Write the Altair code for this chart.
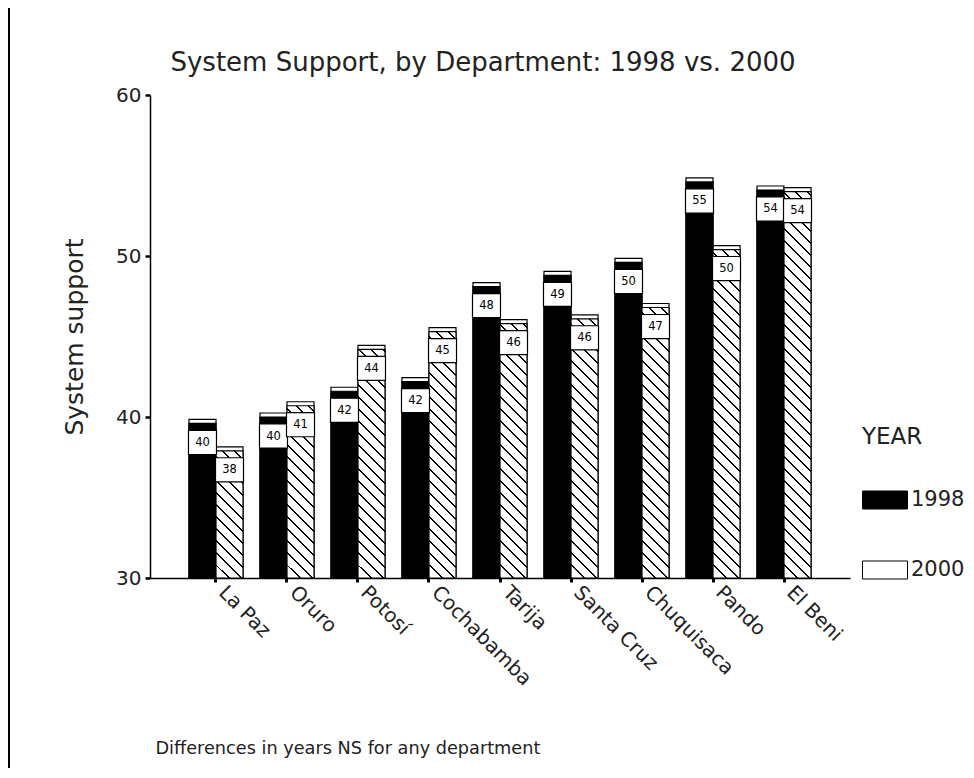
import math
import altair as alt
import pandas as pd

departments = ["La Paz", "Oruro", "Potosí", "Cochabamba", "Tarija",
               "Santa Cruz", "Chuquisaca", "Pando", "El Beni"]
values_1998 = [39.6, 40.0, 41.6, 42.2, 48.1, 48.8, 49.6, 54.6, 54.1]
values_2000 = [37.9, 40.7, 44.2, 45.3, 45.8, 46.1, 46.8, 50.4, 54.0]
labels_1998 = ["40", "40", "42", "42", "48", "49", "50", "55", "54"]
labels_2000 = ["38", "41", "44", "45", "46", "46", "47", "50", "54"]
years = ["1998", "2000"]

rows = []
for d, v, l in zip(departments, values_1998, labels_1998):
    rows.append({"department": d, "year": "1998", "value": v, "label": l})
for d, v, l in zip(departments, values_2000, labels_2000):
    rows.append({"department": d, "year": "2000", "value": v, "label": l})
df = pd.DataFrame(rows)

PLOT_W, PLOT_H = 700, 483
Y_MIN, Y_MAX = 30, 60
PX_PER_UNIT = PLOT_H / (Y_MAX - Y_MIN)
BAR_W = 27
FONT = "DejaVu Sans"
TXT = "#222"


def hatch_gradient(value):
    """Diagonal hatch fill built as a striped linear gradient (bbox units)."""
    W = BAR_W
    H = max((value - Y_MIN) * PX_PER_UNIT, 1)
    s = (W + H) / (W * W + H * H)
    span = (W + H) / math.sqrt(2)
    period = 8.5
    n = span / period
    lw = 1.4 / span
    stops = []
    k = 0
    while k / n < 1:
        a = k / n
        b = min(a + lw, 1)
        c = min((k + 1) / n, 1)
        stops += [{"offset": a, "color": "black"}, {"offset": b, "color": "black"},
                  {"offset": b, "color": "white"}, {"offset": c, "color": "white"}]
        k += 1
    return {"gradient": "linear", "x1": 0, "y1": 1, "x2": s * W, "y2": 1 - s * H,
            "stops": stops}


x_enc = alt.X("department:N", sort=departments,
              scale=alt.Scale(domain=departments, paddingInner=0.239, paddingOuter=0.549),
              axis=alt.Axis(title="Differences in years NS for any department",
                            titleX=5, titleY=175, titleAnchor="start", titleAlign="left",
                            titleBaseline="alphabetic", titleFontSize=17.7,
                            titleFontWeight="normal", titleColor=TXT, titleFont=FONT,
                            labelAngle=45, labelAlign="left", labelBaseline="middle",
                            labelFontSize=20, labelColor=TXT, labelFont=FONT,
                            labelPadding=7, labelOffset=6,
                            tickSize=4, tickWidth=3, tickColor="black",
                            domainColor="black", domainWidth=1.5, grid=False))
xoff_enc = alt.XOffset("year:N", sort=years,
                       scale=alt.Scale(domain=years, paddingInner=0, paddingOuter=0))
y_enc = alt.Y("value:Q",
              scale=alt.Scale(domain=[Y_MIN, Y_MAX], nice=False, zero=False),
              axis=alt.Axis(title="System support", values=[30, 40, 50, 60],
                            titleFontSize=25, titleFontWeight="normal", titleColor=TXT,
                            titleFont=FONT, titlePadding=28,
                            labelFontSize=20, labelColor=TXT, labelFont=FONT,
                            labelPadding=4, tickSize=5, tickWidth=2.5, tickColor="black",
                            domainColor="black", domainWidth=1.5, grid=False))

base = alt.Chart(df).encode(x=x_enc, xOffset=xoff_enc, y=y_enc)

back = base.mark_bar(fill="white", stroke="black", strokeWidth=1.2,
                     xOffset=5, yOffset=-4).encode(y2=alt.datum(Y_MIN))

front_1998 = base.transform_filter(alt.datum.year == "1998").mark_bar(
    stroke="black", strokeWidth=1.2).encode(
    y2=alt.datum(Y_MIN),
    fill=alt.Fill("year:N",
                  scale=alt.Scale(domain=years, range=["black", "white"]),
                  legend=alt.Legend(title="YEAR", orient="none", legendX=712, legendY=331,
                                    titleFontSize=23, titleFontWeight="normal",
                                    titleColor=TXT, titleFont=FONT, titlePadding=28,
                                    labelFontSize=21, labelColor=TXT, labelFont=FONT,
                                    labelOffset=3,
                                    symbolType="M-1,-0.4H1V0.4H-1Z", symbolSize=2025,
                                    symbolStrokeColor="black", symbolStrokeWidth=1,
                                    rowPadding=36)))

front_2000 = [
    base.transform_filter((alt.datum.year == "2000") & (alt.datum.department == d))
    .mark_bar(fill=hatch_gradient(v), stroke="black", strokeWidth=1.2)
    .encode(y2=alt.datum(Y_MIN))
    for d, v in zip(departments, values_2000)
]

boxes = base.mark_point(shape="M-1,-0.86H1V0.86H-1Z", size=784, filled=True,
                        fill="white", stroke="black", strokeWidth=1.2, opacity=1,
                        yOffset=19, xOffset=-1.5)
texts = base.mark_text(fontSize=11.5, font=FONT, color="black", baseline="middle",
                       align="center", yOffset=19.5, xOffset=-1.5).encode(text="label:N")

border = alt.Chart(df).mark_rule(color="black", strokeWidth=1).encode(
    x=alt.value(-141), y=alt.value(-95), y2=alt.value(PLOT_H + 190))

chart = alt.layer(back, front_1998, *front_2000, boxes, texts, border).properties(
    width=PLOT_W, height=PLOT_H,
    title=alt.TitleParams("System Support, by Department: 1998 vs. 2000",
                          fontSize=26, fontWeight="normal", color=TXT, font=FONT,
                          anchor="middle", frame="group", baseline="alphabetic",
                          dx=-17, offset=-97),
    autosize=alt.AutoSizeParams(type="none"),
    padding={"left": 142, "top": 87, "right": 116, "bottom": 190},
).configure(font=FONT, view=alt.ViewConfig(stroke=None))

chart.save("out.html", embed_options={"renderer": "svg", "actions": False})
